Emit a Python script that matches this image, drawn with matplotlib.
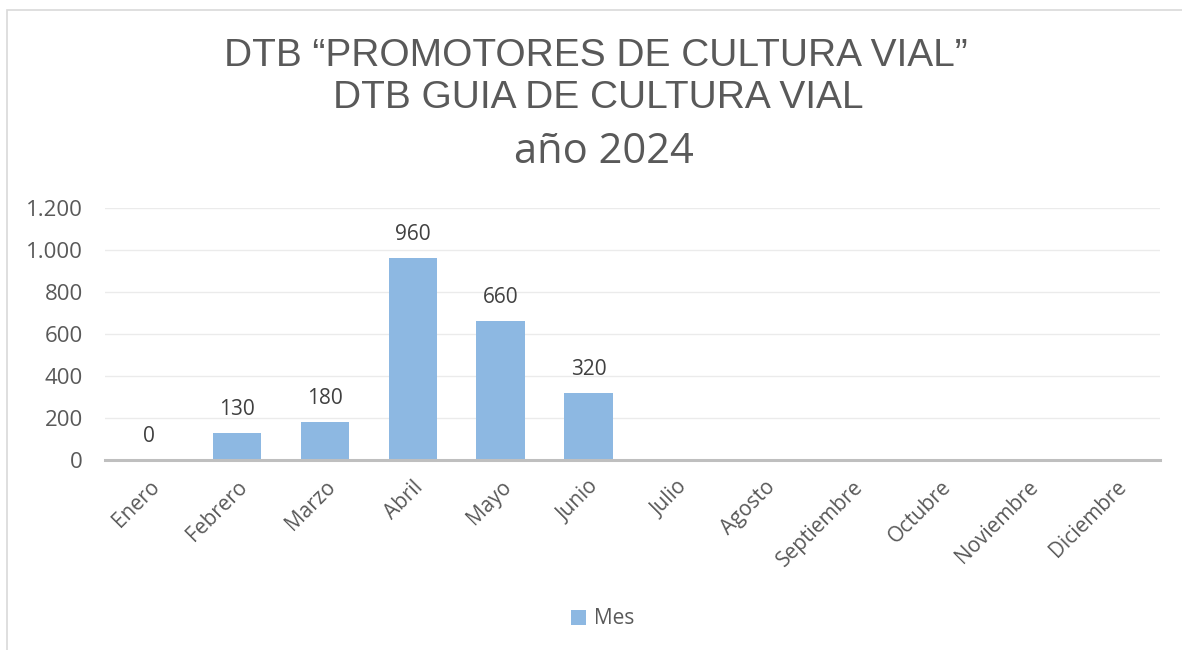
import matplotlib.pyplot as plt
from matplotlib.patches import Rectangle
from matplotlib.ticker import FuncFormatter
from matplotlib import font_manager

# datos mensuales 2024
meses = ["Enero", "Febrero", "Marzo", "Abril", "Mayo", "Junio", "Julio",
         "Agosto", "Septiembre", "Octubre", "Noviembre", "Diciembre"]
valores = [0, 130, 180, 960, 660, 320, None, None, None, None, None, None]
serie = "Mes"
titulo_1 = "DTB \u201cPROMOTORES DE CULTURA VIAL\u201d"
titulo_2 = "DTB GUIA DE CULTURA VIAL"
titulo_3 = "a\u00f1o 2024"

installed = {f.name for f in font_manager.fontManager.ttflist}
body = [f for f in ["Open Sans", "Lato", "DejaVu Sans"] if f in installed] or ["DejaVu Sans"]
head = [f for f in ["Liberation Sans", "DejaVu Sans"] if f in installed] or ["DejaVu Sans"]

TXT = "#595959"
BAR = "#8db8e2"

fig = plt.figure(figsize=(11.82, 6.5), dpi=100)
W, H = 1182, 650


def px(x, y):
    # coordenadas en pixeles (origen arriba a la izquierda) -> figura
    return x / W, 1 - y / H


# marco exterior del gráfico
fig.patches.append(Rectangle((7 / W, -0.05), 1.2, 1 - 10 / H + 0.05,
                             transform=fig.transFigure, fill=False,
                             edgecolor="#d9d9d9", linewidth=1.2))

ax = fig.add_axes([105 / W, 1 - 460 / H, (1160 - 105) / W, (460 - 208) / H])

x = list(range(len(meses)))
alturas = [v if v is not None else 0 for v in valores]
bars = ax.bar(x, alturas, width=0.55, color=BAR, label=serie, zorder=2)

for xi, v in zip(x, valores):
    if v is None:
        continue
    ax.annotate(str(v), (xi, v), xytext=(0, 13), textcoords="offset points",
                ha="center", va="baseline", fontsize=15, color="#404040",
                family=body)

ax.set_xlim(-0.5, len(meses) - 0.5)
ax.set_ylim(0, 1200)
ax.set_yticks(range(0, 1201, 200))
ax.yaxis.set_major_formatter(FuncFormatter(lambda v, p: f"{int(v):,}".replace(",", ".")))
ax.grid(axis="y", color="#ebebeb", linewidth=1, zorder=0)
ax.set_axisbelow(True)

for s in ["top", "right", "left"]:
    ax.spines[s].set_visible(False)
ax.spines["bottom"].set_color("#bfbfbf")
ax.spines["bottom"].set_linewidth(2.2)
ax.spines["bottom"].set_zorder(3)

ax.set_xticks(x)
ax.set_xticklabels(meses, rotation=45, ha="right", rotation_mode="anchor")
ax.tick_params(axis="both", length=0, colors=TXT)
ax.tick_params(axis="x", pad=12, labelsize=15)
ax.tick_params(axis="y", pad=16, labelsize=16)
for lab in ax.get_xticklabels() + ax.get_yticklabels():
    lab.set_family(body)

fig.text(*px(596, 66), titulo_1, ha="center", va="baseline",
         fontsize=28, color=TXT, family=head)
fig.text(*px(598, 108), titulo_2, ha="center", va="baseline",
         fontsize=28, color=TXT, family=head)
fig.text(*px(604, 163), titulo_3, ha="center", va="baseline",
         fontsize=30, color=TXT, family=body)

leg = fig.legend(handles=[bars], labels=[serie], loc="center",
                 bbox_to_anchor=px(603, 619), frameon=False,
                 handlelength=0.7, handleheight=0.7, handletextpad=0.4,
                 prop={"family": body, "size": 15})
for t in leg.get_texts():
    t.set_color(TXT)

fig.savefig("out.png", dpi=100, facecolor="white")
